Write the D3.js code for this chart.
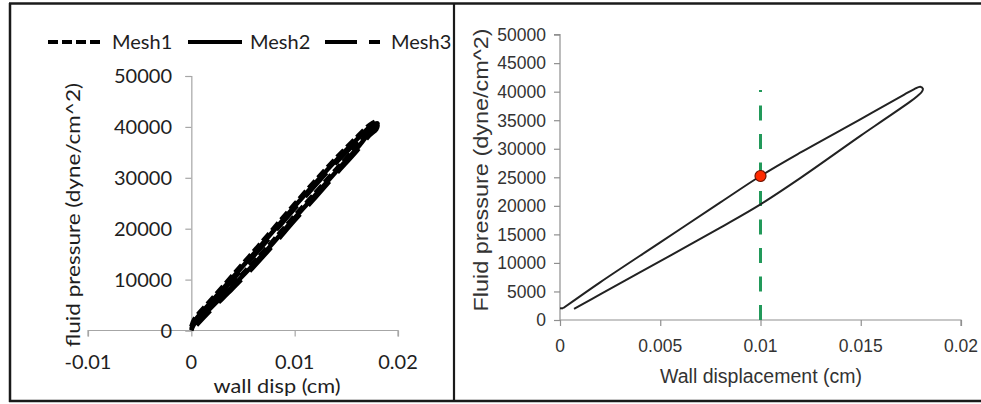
<!DOCTYPE html>
<html>
<head>
<meta charset="utf-8">
<script src="https://cdn.jsdelivr.net/npm/d3@7"></script>
<style>
  html, body { margin: 0; padding: 0; background: #fff; }
  svg { display: block; }
</style>
</head>
<body>
<svg id="fig" width="981" height="404"></svg>
<script>
// ---------- left panel: mesh study ----------
const meshNames = ["Mesh1", "Mesh2", "Mesh3"];
const leftDispTicks = [-0.01, 0, 0.01, 0.02];
const leftPressTicks = [0, 10000, 20000, 30000, 40000, 50000];

// loading branch (wall disp in cm) and unloading branch, shared by all meshes
const meshDispUp   = [0, 0.0003, 0.002, 0.004, 0.006, 0.008, 0.010, 0.012, 0.014, 0.016, 0.0173, 0.0180];
const meshDispDown = [0.0179, 0.0172, 0.016, 0.014, 0.012, 0.010, 0.008, 0.006, 0.004, 0.002, 0.0005];

const mesh1Up   = [750, 2250, 6250, 10850, 15450, 20150, 24850, 29450, 33850, 37950, 40450, 41150];
const mesh1Down = [40450, 39150, 36150, 31650, 27050, 22550, 17850, 13350, 9150, 5150, 1950];
const mesh2Up   = [300, 1800, 5800, 10400, 15000, 19700, 24400, 29000, 33400, 37500, 40000, 40700];
const mesh2Down = [40000, 38700, 35700, 31200, 26600, 22100, 17400, 12900, 8700, 4700, 1500];
const mesh3Up   = [0, 1350, 5350, 9950, 14550, 19250, 23950, 28550, 32950, 37050, 39550, 40250];
const mesh3Down = [39550, 38250, 35250, 30750, 26150, 21650, 16950, 12450, 8250, 4250, 1050];

// ---------- right panel: single pressure-displacement loop ----------
const rightDispTicks = [0, 0.005, 0.01, 0.015, 0.02];
const rightPressTicks = [0, 5000, 10000, 15000, 20000, 25000, 30000, 35000, 40000, 45000, 50000];
const loopDispUp   = [0.00015, 0.002, 0.005, 0.008, 0.010, 0.012, 0.015, 0.01717, 0.01767, 0.01797, 0.01810];
const loopPressUp  = [2050, 6600, 13600, 20600, 25230, 29350, 35200, 39500, 40450, 40880, 40500];
const loopDispDown  = [0.01803, 0.01783, 0.0175, 0.0162, 0.015, 0.012, 0.010, 0.008, 0.005, 0.002, 0.0007];
const loopPressDown = [39900, 39250, 38340, 35180, 32300, 24900, 20270, 16200, 10300, 4500, 1930];
const markerDisp = 0.01;
const markerPress = 25230;
const guideTop = 40300;

const svg = d3.select("#fig");

// ---------- frame ----------
const frame = svg.append("g").attr("stroke", "#1a1a1a").attr("fill", "none");
frame.append("line").attr("x1", 9).attr("x2", 981).attr("y1", 3.5).attr("y2", 3.5).attr("stroke-width", 2.5);
frame.append("line").attr("x1", 10).attr("x2", 10).attr("y1", 3).attr("y2", 402).attr("stroke-width", 2.5);
frame.append("line").attr("x1", 9).attr("x2", 981).attr("y1", 401).attr("y2", 401).attr("stroke-width", 2.5);
frame.append("line").attr("x1", 454).attr("x2", 454).attr("y1", 3).attr("y2", 402).attr("stroke-width", 2.2);

// ================= LEFT =================
const lx = d3.scaleLinear().domain([-0.01, 0.02]).range([88, 398]);
const ly = d3.scaleLinear().domain([0, 50000]).range([330.5, 76]);
const leftFont = "Lato, 'Open Sans', sans-serif";
const L = svg.append("g");

const lxAxis = L.append("g").attr("transform", `translate(0,${ly(0)})`)
  .call(d3.axisBottom(lx).tickValues(leftDispTicks).tickSize(6).tickFormat(() => ""));
const lyAxis = L.append("g").attr("transform", `translate(${lx(0)},0)`)
  .call(d3.axisLeft(ly).tickValues(leftPressTicks).tickSize(6).tickFormat(() => ""));
[lxAxis, lyAxis].forEach(a => {
  a.selectAll("path,line").attr("stroke", "#a6a6a6").attr("stroke-width", 1.2);
});
lxAxis.select("path.domain").attr("d", `M${lx(-0.01)},6V0H${lx(0.02)}V6`);

L.append("g").selectAll("text").data(leftPressTicks).join("text")
  .attr("x", 172).attr("y", d => ly(d)).attr("dy", "0.36em")
  .attr("text-anchor", "end").attr("font-family", leftFont).attr("font-size", 20)
  .attr("fill", "#1e1e1e").text(d => d3.format("d")(d));
L.append("g").selectAll("text").data(leftDispTicks).join("text")
  .attr("x", d => lx(d)).attr("y", 368.5)
  .attr("text-anchor", "middle").attr("font-family", leftFont).attr("font-size", 20)
  .attr("fill", "#1e1e1e").text(d => d === 0 ? "0" : String(d));

L.append("text").attr("x", 277).attr("y", 392.5).attr("text-anchor", "middle")
  .attr("font-family", leftFont).attr("font-size", 19).attr("fill", "#1e1e1e")
  .attr("textLength", 127).attr("lengthAdjust", "spacingAndGlyphs")
  .text("wall disp (cm)");
L.append("text").attr("transform", "translate(80,215) rotate(-90)").attr("text-anchor", "middle")
  .attr("font-family", leftFont).attr("font-size", 20).attr("fill", "#1e1e1e")
  .attr("textLength", 264).attr("lengthAdjust", "spacingAndGlyphs")
  .text("fluid pressure (dyne/cm^2)");

// mesh loops
const meshStyles = { Mesh1: "10,4", Mesh2: null, Mesh3: "32,12" };
const meshData = [
  { name: "Mesh1", up: mesh1Up, down: mesh1Down },
  { name: "Mesh2", up: mesh2Up, down: mesh2Down },
  { name: "Mesh3", up: mesh3Up, down: mesh3Down }
];
const leftLine = d3.line().x(d => lx(d[0])).y(d => ly(d[1])).curve(d3.curveCatmullRom.alpha(0.5));
meshData.forEach(m => {
  const pts = meshDispUp.map((x, i) => [x, m.up[i]])
    .concat(meshDispDown.map((x, i) => [x, m.down[i]]));
  L.append("path").datum(pts).attr("d", leftLine)
    .attr("fill", "none").attr("stroke", "#000").attr("stroke-width", 4.5)
    .attr("stroke-linejoin", "round")
    .attr("stroke-dasharray", meshStyles[m.name]);
});

// legend
const legendItems = [
  { name: "Mesh1", x0: 48, x1: 100, tx: 112 },
  { name: "Mesh2", x0: 188, x1: 242, tx: 250 },
  { name: "Mesh3", x0: 325, x1: 380, tx: 391 }
];
const leg = L.append("g");
legendItems.forEach(it => {
  leg.append("line").attr("x1", it.x0).attr("x2", it.x1).attr("y1", 42).attr("y2", 42)
    .attr("stroke", "#000").attr("stroke-width", 4)
    .attr("stroke-dasharray", meshStyles[it.name]);
  leg.append("text").attr("x", it.tx).attr("y", 42).attr("dy", "0.36em")
    .attr("font-family", leftFont).attr("font-size", 20).attr("fill", "#1e1e1e")
    .text(it.name);
});

// ================= RIGHT =================
const rx = d3.scaleLinear().domain([0, 0.02]).range([560, 961]);
const ry = d3.scaleLinear().domain([0, 50000]).range([320, 34.6]);
const rightFont = "'Liberation Sans', Arial, sans-serif";
const R = svg.append("g");

const rxAxis = R.append("g").attr("transform", `translate(0,${ry(0)})`)
  .call(d3.axisBottom(rx).tickValues(rightDispTicks).tickSize(6).tickFormat(() => ""));
const ryAxis = R.append("g").attr("transform", `translate(${rx(0)},0)`)
  .call(d3.axisLeft(ry).tickValues(rightPressTicks).tickSize(6).tickFormat(() => ""));
[rxAxis, ryAxis].forEach(a => {
  a.selectAll("path,line").attr("stroke", "#8f8f8f").attr("stroke-width", 1.2);
});
rxAxis.select("path.domain").attr("d", `M${rx(0)},0H${rx(0.02)}V6`);
ryAxis.select("path.domain").attr("d", `M-6,${ry(50000)}H0V${ry(0)}`);

R.append("g").selectAll("text").data(rightPressTicks).join("text")
  .attr("x", 546).attr("y", d => ry(d)).attr("dy", "0.36em")
  .attr("text-anchor", "end").attr("font-family", rightFont).attr("font-size", 17.5)
  .attr("fill", "#333").text(d => d3.format("d")(d));
R.append("g").selectAll("text").data(rightDispTicks).join("text")
  .attr("x", d => rx(d)).attr("y", 352)
  .attr("text-anchor", "middle").attr("font-family", rightFont).attr("font-size", 17.5)
  .attr("fill", "#333").text(d => d === 0 ? "0" : String(d));

R.append("text").attr("x", 761).attr("y", 383).attr("text-anchor", "middle")
  .attr("font-family", rightFont).attr("font-size", 19.5).attr("fill", "#333")
  .text("Wall displacement (cm)");
R.append("text").attr("transform", "translate(488,170) rotate(-90)").attr("text-anchor", "middle")
  .attr("font-family", rightFont).attr("font-size", 19.5).attr("fill", "#333")
  .attr("textLength", 283).attr("lengthAdjust", "spacingAndGlyphs")
  .text("Fluid pressure (dyne/cm^2)");

// vertical guide at the marked displacement, dashed from the bottom up
R.append("line")
  .attr("x1", rx(markerDisp)).attr("x2", rx(markerDisp))
  .attr("y1", ry(0)).attr("y2", ry(guideTop))
  .attr("stroke", "#22995a").attr("stroke-width", 3)
  .attr("stroke-dasharray", "15,13.5");

// loop
const rightLine = d3.line().x(d => rx(d[0])).y(d => ry(d[1])).curve(d3.curveCatmullRom.alpha(0.5));
const loopPts = loopDispUp.map((x, i) => [x, loopPressUp[i]])
  .concat(loopDispDown.map((x, i) => [x, loopPressDown[i]]));
R.append("path").datum(loopPts).attr("d", rightLine)
  .attr("fill", "none").attr("stroke", "#222").attr("stroke-width", 2)
  .attr("stroke-linejoin", "round");
// short flat stub where the loading branch leaves the axis
R.append("line").attr("x1", rx(0)).attr("x2", rx(loopDispUp[0]))
  .attr("y1", ry(loopPressUp[0])).attr("y2", ry(loopPressUp[0]))
  .attr("stroke", "#222").attr("stroke-width", 2);

// marker
R.append("circle").attr("cx", rx(markerDisp)).attr("cy", ry(markerPress)).attr("r", 5.5)
  .attr("fill", "#ff2a00").attr("stroke", "#6b1200").attr("stroke-width", 1.2);
</script>
</body>
</html>
